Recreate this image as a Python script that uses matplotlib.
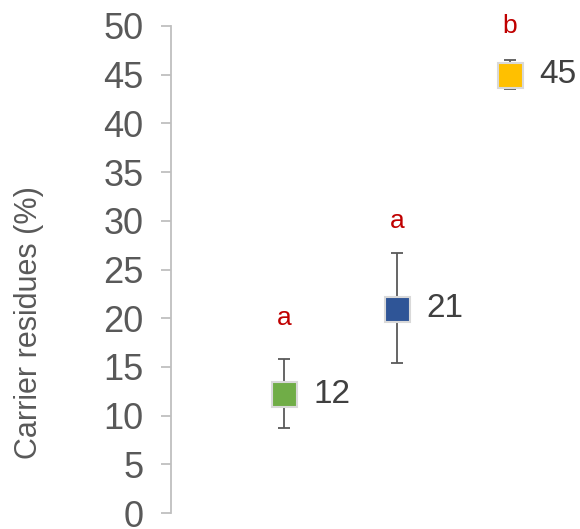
import numpy as np
import matplotlib.pyplot as plt

plt.rcParams['font.family'] = ['Liberation Sans', 'DejaVu Sans']

# carrier residue per group, with error range and significance letters
means = [12.2, 21.0, 45.0]
err_low = [3.5, 5.6, 1.5]
err_high = [3.6, 5.7, 1.5]
value_labels = ['12', '21', '45']
letters = ['a', 'a', 'b']
letter_y = [20.0, 30.0, 50.0]
colors = ['#70AD47', '#2F5597', '#FFC000']

fig = plt.figure(figsize=(5.8, 5.29), dpi=100)
ax = fig.add_axes([0.295, 0.030, 0.705, 0.921])

xs = np.arange(1, len(means) + 1)
for x, m, lo, hi, c, lab, let, ly in zip(xs, means, err_low, err_high, colors,
                                         value_labels, letters, letter_y):
    ax.errorbar(x, m, yerr=[[lo], [hi]], fmt='none', ecolor='#595959',
                elinewidth=1.3, capsize=4.3, capthick=1.3, zorder=2, clip_on=False)
    ax.plot(x, m, marker='s', markersize=18, markerfacecolor=c,
            markeredgecolor='#D9D9D9', markeredgewidth=1.5, linestyle='none',
            zorder=3, clip_on=False)
    ax.annotate(lab, (x, m), xytext=(21, 0), textcoords='offset points',
                ha='left', va='center', fontsize=24, color='#404040')
    ax.text(x, ly, let, ha='center', va='center', fontsize=19, color='#C00000')

ax.set_xlim(0, 3.62)
ax.set_ylim(0, 50)
ax.set_yticks(np.arange(0, 51, 5))
ax.set_xticks([])
ax.set_ylabel('Carrier residues (%)', fontsize=22, color='#595959')
ax.yaxis.set_label_coords(-0.31, 0.392)

for side in ['top', 'right', 'bottom']:
    ax.spines[side].set_visible(False)
ax.spines['left'].set_color('#BFBFBF')
ax.spines['left'].set_linewidth(1.3)
ax.tick_params(axis='y', colors='#BFBFBF', length=7, width=1.3,
               labelsize=26, labelcolor='#595959', pad=13)

fig.savefig('out.png', dpi=100)
